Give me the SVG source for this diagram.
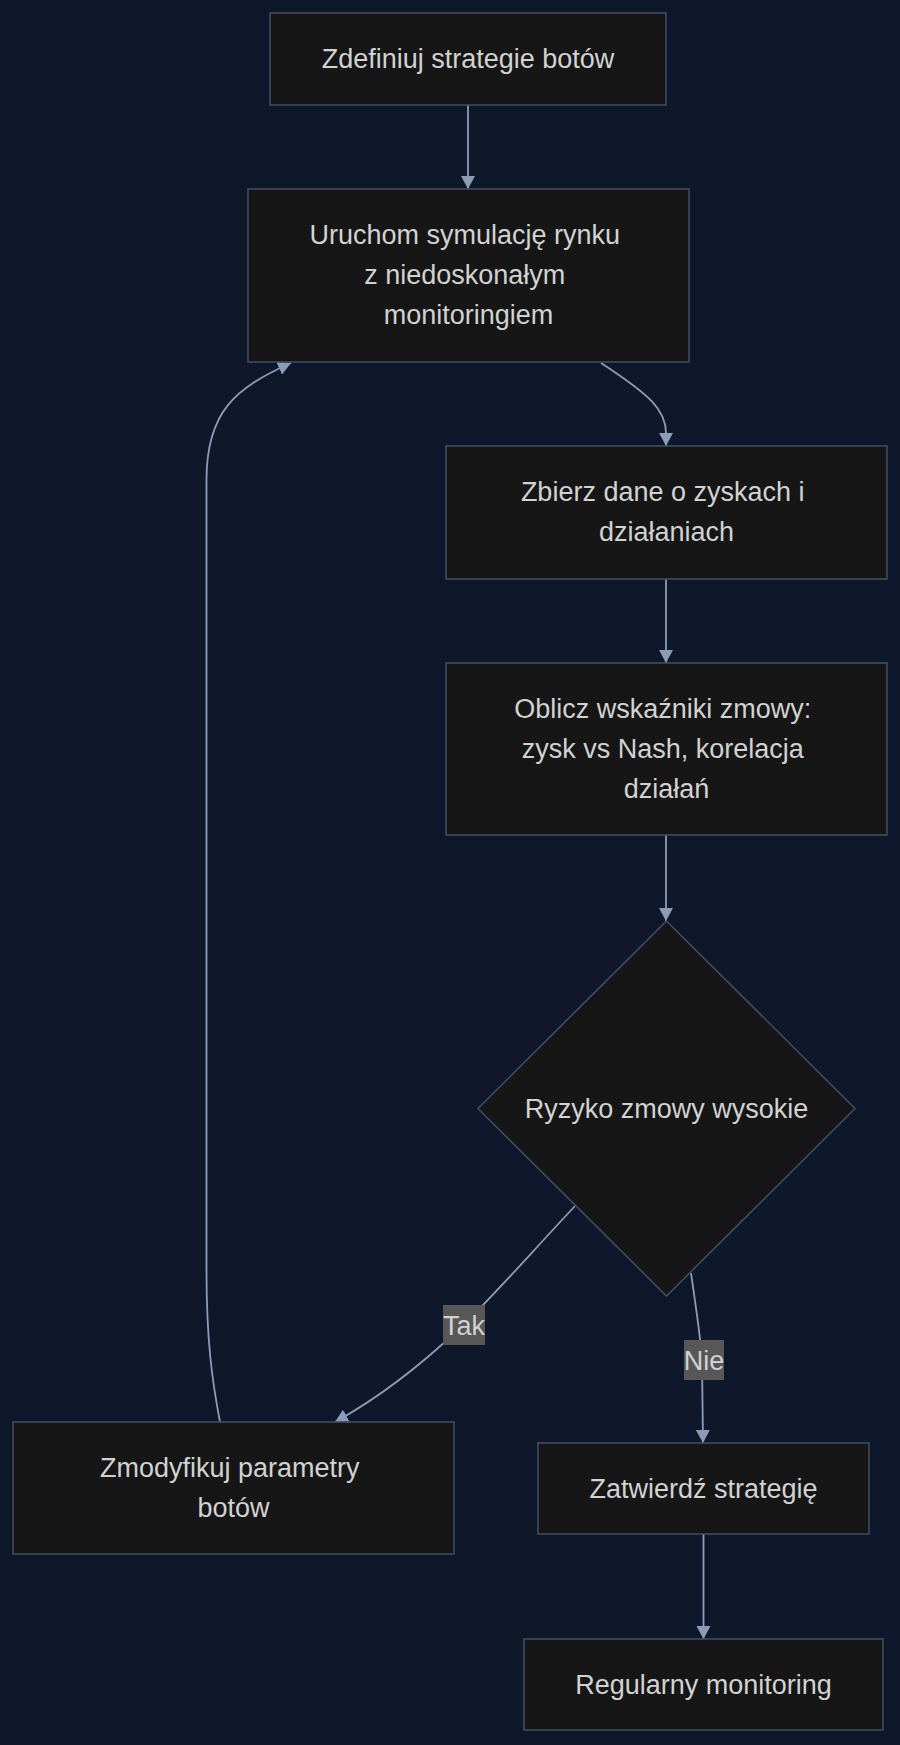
<svg xmlns="http://www.w3.org/2000/svg" width="900" height="1745" viewBox="0 0 900 1745">
<defs>
<style>
.node rect,.node polygon{fill:#161616;stroke:#3f4c61;stroke-width:1.6}
.node text,.lbl text{font-family:"Liberation Sans",Arial,sans-serif;font-size:27px;fill:#d2d2d2;text-anchor:middle}
.edges path{fill:none;stroke:#8d9cb6;stroke-width:1.8}
.lbl rect{fill:#575757}
</style>
<marker id="arr" markerUnits="userSpaceOnUse" markerWidth="14" markerHeight="14" viewBox="0 0 14 14" refX="13" refY="7" orient="auto">
<path d="M0,0 L13,7 L0,14 z" fill="#8d9cb6"/>
</marker>
</defs>
<rect x="0" y="0" width="900" height="1745" fill="#0f172a"/>
<g id="edges" class="edges">
<path d="M468,105 L468,189" marker-end="url(#arr)"/>
<path d="M601,363 C650,395 666,410 666,433 L666,446" marker-end="url(#arr)"/>
<path d="M666,579 L666,663" marker-end="url(#arr)"/>
<path d="M666,835 L666,921" marker-end="url(#arr)"/>
<path d="M575,1206 C530,1254 490,1300 460,1328 C420,1366 382,1396 335,1422" marker-end="url(#arr)"/>
<path d="M691,1273 C697,1315 701,1340 702,1360 L703,1443" marker-end="url(#arr)"/>
<path d="M703.5,1534 L703.5,1639" marker-end="url(#arr)"/>
<path d="M220,1422 C212,1380 206.5,1340 206.5,1270 L206.5,480 C206.5,412 235,388 291,363" marker-end="url(#arr)"/>
</g>
<g id="n1" class="node"><rect x="270" y="13" width="396" height="92"/><text x="468" y="68">Zdefiniuj strategie botów</text></g>
<g id="n2" class="node"><rect x="248" y="189" width="441" height="173"/><text x="464.7" y="244">Uruchom symulację rynku</text><text x="464.7" y="284">z niedoskonałym</text><text x="468.5" y="324">monitoringiem</text></g>
<g id="n3" class="node"><rect x="446" y="446" width="441" height="133"/><text x="662.7" y="501">Zbierz dane o zyskach i</text><text x="666.5" y="541">działaniach</text></g>
<g id="n4" class="node"><rect x="446" y="663" width="441" height="172"/><text x="662.7" y="718">Oblicz wskaźniki zmowy:</text><text x="662.7" y="758">zysk vs Nash, korelacja</text><text x="666.5" y="798">działań</text></g>
<g id="n5" class="node"><polygon points="666.5,921 855,1108.5 666.5,1296 478,1108.5"/><text x="666.5" y="1118">Ryzyko zmowy wysokie</text></g>
<g id="n6" class="node"><rect x="13" y="1422" width="441" height="132"/><text x="229.7" y="1477">Zmodyfikuj parametry</text><text x="233.5" y="1517">botów</text></g>
<g id="n7" class="node"><rect x="538" y="1443" width="331" height="91"/><text x="703.5" y="1498">Zatwierdź strategię</text></g>
<g id="n8" class="node"><rect x="524" y="1639" width="359" height="91"/><text x="703.5" y="1694">Regularny monitoring</text></g>
<g id="labels">
<g class="lbl"><rect x="443" y="1305" width="42" height="40"/><text x="464" y="1334.5">Tak</text></g>
<g class="lbl"><rect x="684" y="1340" width="40" height="40"/><text x="704" y="1369.5">Nie</text></g>
</g>
</svg>
